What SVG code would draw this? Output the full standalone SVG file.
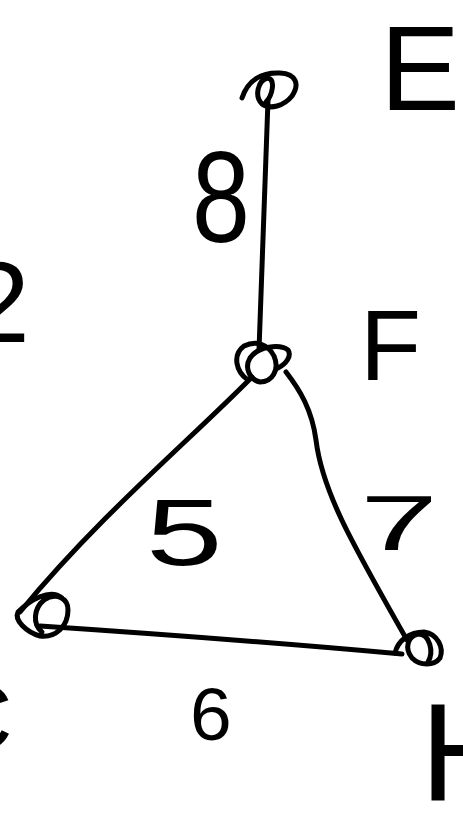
<svg xmlns="http://www.w3.org/2000/svg" width="463" height="829" viewBox="0 0 463 829">
<style>
.ln{fill:none;stroke:#000;stroke-width:5;stroke-linecap:round;stroke-linejoin:round}
.t{font-family:"Liberation Sans",Arial,sans-serif;fill:#000}
</style>
<rect width="463" height="829" fill="#fff"/>
<g id="connectors">
<path class="ln" d="M268,100 L259,350"/>
<path class="ln" d="M252,377 C190,440 100,515 20,612"/>
<path class="ln" d="M40,626 C160,634 290,644 402,654"/>
<path class="ln" d="M286,372 C300,390 312,410 316,440 C322,490 350,540 407,640"/>
</g>
<g id="node-E">
<path class="ln" d="M242,98 C248,80 262,72 280,73 C296,74 300,84 292,96 C284,106 270,110 262,104 C254,96 258,80 268,78 C276,80 272,96 266,102"/>
<text class="t" x="380" y="110" font-size="120">E</text>
</g>
<g id="node-F">
<path class="ln" d="M248,380 C236,372 232,355 244,346 C256,340 268,344 274,356 C280,370 272,382 260,382 C250,380 244,368 250,358 C258,346 280,344 288,350 C292,356 286,364 278,368"/>
<text class="t" x="360" y="380" font-size="100">F</text>
</g>
<g id="node-C">
<path class="ln" d="M62,598 C50,588 30,600 18,612 C14,620 26,632 40,636 C56,638 68,626 68,610 C68,598 56,592 44,600 C34,608 32,624 42,632"/>
<text class="t" x="-56" y="750" font-size="95">C</text>
</g>
<g id="node-H">
<path class="ln" d="M395,653 C398,640 410,632 424,632 C438,634 444,648 440,658 C434,666 420,666 412,658 C404,648 408,636 418,634 C430,634 434,652 428,662"/>
<text class="t" x="420" y="800" font-size="140">H</text>
</g>
<g id="labels">
<text class="t" x="-34" y="342" font-size="115">2</text>
<text class="t" transform="translate(192,242) scale(0.8,1)" font-size="130">8</text>
<text class="t" transform="translate(146,565) scale(1.45,1)" font-size="95">5</text>
<text class="t" transform="translate(360,550) scale(1.8,1)" font-size="78">7</text>
<text class="t" x="190" y="740" font-size="75">6</text>
</g>
</svg>
